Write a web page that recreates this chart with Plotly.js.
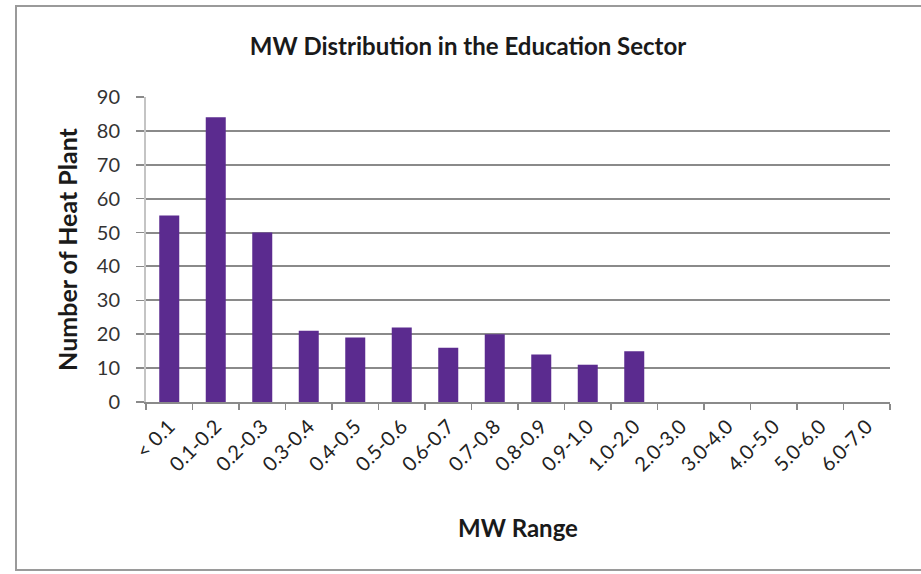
<!DOCTYPE html>
<html>
<head>
<meta charset="utf-8">
<script src="https://cdn.plot.ly/plotly-3.0.1.min.js"></script>
<style>
  html, body { margin: 0; padding: 0; background: #fff; }
  #wrap { position: relative; width: 921px; height: 574px; overflow: hidden; }
  #chart { position: absolute; left: 0; top: 0; width: 921px; height: 574px; }
  #frame { position: absolute; left: 15px; top: 5px; width: 920px; height: 566px;
           border: 2px solid #9a9a9a; pointer-events: none; box-sizing: border-box; }
</style>
</head>
<body>
<div id="wrap">
  <div id="chart"></div>
  <div id="frame"></div>
</div>
<script>
const categories = ["< 0.1", "0.1-0.2", "0.2-0.3", "0.3-0.4", "0.4-0.5", "0.5-0.6",
  "0.6-0.7", "0.7-0.8", "0.8-0.9", "0.9-1.0", "1.0-2.0", "2.0-3.0", "3.0-4.0",
  "4.0-5.0", "5.0-6.0", "6.0-7.0"];
const heatPlants = [55, 84, 50, 21, 19, 22, 16, 20, 14, 11, 15, 0, 0, 0, 0, 0];
const yTicks = [0, 10, 20, 30, 40, 50, 60, 70, 80, 90];

const FONT = "Lato, 'Open Sans', sans-serif";

const trace = {
  type: "bar",
  x: categories,
  y: heatPlants,
  marker: { color: "#5b2b8f", line: { color: "#3b1763", width: 0 } },
  hoverinfo: "x+y"
};

const layout = {
  width: 921, height: 574,
  margin: { l: 146, r: 31, t: 97, b: 172, pad: 0 },
  paper_bgcolor: "#ffffff",
  plot_bgcolor: "#ffffff",
  showlegend: false,
  bargap: 0.57,
  title: {
    text: "<b>MW Distribution in the Education Sector</b>",
    font: { family: FONT, size: 24, color: "#1a1a1a" },
    x: 468 / 921, xref: "container", xanchor: "center",
    y: 1 - 47 / 574, yref: "container", yanchor: "middle"
  },
  xaxis: {
    type: "category",
    range: [-0.5, 15.5],
    tickson: "boundaries",
    ticks: "outside", ticklen: 6, tickwidth: 1.5, tickcolor: "#8a8a8a",
    showline: true, linecolor: "#8a8a8a", linewidth: 2,
    showgrid: false,
    tickangle: -45,
    ticklabelstandoff: 3,
    tickfont: { family: FONT, size: 20, color: "#222" },
    title: { text: "<b>MW Range</b>", font: { family: FONT, size: 24, color: "#1a1a1a" }, standoff: 46 },
    fixedrange: true
  },
  yaxis: {
    range: [0, 90],
    tickvals: yTicks,
    ticktext: yTicks.map(String),
    ticks: "outside", ticklen: 8, tickwidth: 1.5, tickcolor: "#8a8a8a",
    showgrid: true, gridcolor: "#8a8a8a", gridwidth: 2,
    zeroline: false,
    showline: true, linecolor: "#c4c4c4", linewidth: 2,
    ticklabelstandoff: 12,
    tickfont: { family: FONT, size: 20, color: "#333" },
    title: { text: "<b>Number of Heat Plant</b>", font: { family: FONT, size: 25, color: "#1a1a1a" }, standoff: 12 },
    fixedrange: true
  }
};

Plotly.newPlot("chart", [trace], layout, { displayModeBar: false, staticPlot: true });
</script>
</body>
</html>
